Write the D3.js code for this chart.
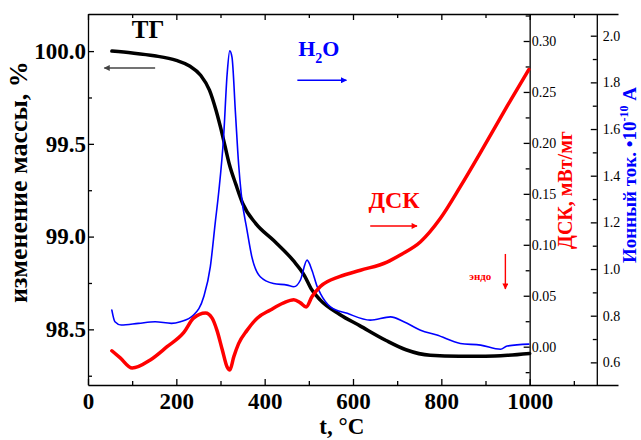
<!DOCTYPE html>
<html>
<head>
<meta charset="utf-8">
<script src="https://cdn.jsdelivr.net/npm/d3@7"></script>
<style>
body { margin: 0; background: #fff; }
svg { font-family: "Liberation Serif", "Times New Roman", serif; }
</style>
</head>
<body>
<svg id="chart" width="641" height="440"></svg>
<script>
// ТГ: изменение массы, %
const tgT = [54, 100, 150, 200, 230, 255, 275, 290, 300, 310, 320, 335, 350, 380, 420, 465, 490, 505, 525, 570, 615, 675, 720, 775, 840, 900, 950, 1000]
const tgV = [100.0, 99.99, 99.975, 99.95, 99.92, 99.87, 99.79, 99.68, 99.59, 99.49, 99.39, 99.28, 99.18, 99.07, 98.98, 98.87, 98.79, 98.72, 98.66, 98.58, 98.52, 98.44, 98.39, 98.36, 98.355, 98.355, 98.36, 98.37]

// ионный ток H2O, 10^-10 A
const ionT = [54, 61, 75, 114, 152, 189, 209, 239, 262, 277, 288, 296, 307, 315, 321, 326, 334, 341, 347, 360, 371, 390, 420, 451, 466, 481, 496, 507, 519, 526, 549, 587, 639, 685, 715, 753, 790, 843, 889, 934, 949, 998]
const ionV = [0.824, 0.774, 0.760, 0.767, 0.774, 0.767, 0.774, 0.803, 0.881, 1.010, 1.197, 1.330, 1.565, 1.835, 1.935, 1.908, 1.664, 1.450, 1.321, 1.167, 1.052, 0.967, 0.938, 0.931, 0.924, 0.953, 1.038, 0.995, 0.924, 0.896, 0.838, 0.810, 0.781, 0.795, 0.774, 0.738, 0.717, 0.681, 0.674, 0.656, 0.670, 0.678]

// ДСК, мВт/мг
const dscT = [54, 73, 100, 141, 179, 217, 239, 266, 281, 292, 304, 315, 321, 330, 341, 360, 383, 413, 443, 466, 481, 494, 507, 526, 571, 617, 677, 707, 753, 798, 843, 896, 949, 998]
const dscV = [-0.004, -0.011, -0.021, -0.013, 0.000, 0.014, 0.028, 0.033, 0.028, 0.016, -0.003, -0.020, -0.023, -0.010, 0.003, 0.016, 0.028, 0.036, 0.043, 0.046, 0.043, 0.039, 0.049, 0.059, 0.069, 0.075, 0.083, 0.090, 0.103, 0.126, 0.157, 0.196, 0.236, 0.272]

// tick values
const xTicks = [0, 200, 400, 600, 800, 1000]
const xMinor = [100, 300, 500, 700, 900, 1100]
const tgTicks = [98.5, 99.0, 99.5, 100.0]
const tgMinor = [98.25, 98.75, 99.25, 99.75]
const dscTicks = [0, 0.05, 0.10, 0.15, 0.20, 0.25, 0.30]
const dscMinor = [-0.025, 0.025, 0.075, 0.125, 0.175, 0.225, 0.275, 0.325]
const ionTicks = [0.6, 0.8, 1.0, 1.2, 1.4, 1.6, 1.8, 2.0]
const ionMinor = [0.7, 0.9, 1.1, 1.3, 1.5, 1.7, 1.9]

const mLeft = 88, mRight = 618, mTop = 14, mBottom = 385
const ionAxisT = 1152
const FONT = '"Liberation Serif", "Times New Roman", serif'

const svg = d3.select('#chart')

const x = d3.scaleLinear().domain([0, 1200]).range([mLeft, mRight])
const yTG = d3.scaleLinear().domain([98.2, 100.2]).range([mBottom, mTop])
const yDSC = d3.scaleLinear().domain([-0.0376, 0.3265]).range([mBottom, mTop])
const yIon = d3.scaleLinear().domain([0.503, 2.093]).range([mBottom, mTop])

function styleAxis(g, size, weight) {
    g.attr('font-family', FONT).attr('font-size', size).attr('font-weight', weight)
    g.selectAll('path, line').attr('stroke', '#000').attr('stroke-width', 1.3)
    g.selectAll('text').attr('fill', '#000')
}

// bottom / top
svg.append('g').attr('transform', `translate(0,${mBottom})`)
    .call(d3.axisBottom(x).tickValues(xTicks).tickFormat(d3.format('d')).tickSize(-6).tickSizeOuter(0).tickPadding(8))
    .call(styleAxis, 23, 'bold')
svg.append('g').attr('transform', `translate(0,${mBottom})`)
    .call(d3.axisBottom(x).tickValues(xMinor).tickFormat('').tickSize(-4).tickSizeOuter(0))
    .call(g => g.select('.domain').remove())
    .call(styleAxis, 10, 'normal')
svg.append('g').attr('transform', `translate(0,${mTop})`)
    .call(d3.axisTop(x).tickValues(xTicks).tickFormat('').tickSize(-6).tickSizeOuter(0))
    .call(styleAxis, 10, 'normal')
svg.append('g').attr('transform', `translate(0,${mTop})`)
    .call(d3.axisTop(x).tickValues(xMinor).tickFormat('').tickSize(-4).tickSizeOuter(0))
    .call(g => g.select('.domain').remove())
    .call(styleAxis, 10, 'normal')

// left (TG)
svg.append('g').attr('transform', `translate(${mLeft},0)`)
    .call(d3.axisLeft(yTG).tickValues(tgTicks).tickFormat(d3.format('.1f')).tickSize(-6).tickSizeOuter(0).tickPadding(2))
    .call(styleAxis, 23, 'bold')
svg.append('g').attr('transform', `translate(${mLeft},0)`)
    .call(d3.axisLeft(yTG).tickValues(tgMinor).tickFormat('').tickSize(-4).tickSizeOuter(0))
    .call(g => g.select('.domain').remove())
    .call(styleAxis, 10, 'normal')

// DSC axis at 1000 °C
svg.append('g').attr('transform', `translate(${x(1000)},0)`)
    .call(d3.axisRight(yDSC).tickValues(dscTicks).tickFormat(d3.format('.2f')).tickSize(-6).tickSizeOuter(0).tickPadding(2))
    .call(styleAxis, 14, 'normal')
svg.append('g').attr('transform', `translate(${x(1000)},0)`)
    .call(d3.axisRight(yDSC).tickValues(dscMinor).tickFormat('').tickSize(-4).tickSizeOuter(0))
    .call(g => g.select('.domain').remove())
    .call(styleAxis, 10, 'normal')

// ion current axis
svg.append('g').attr('transform', `translate(${x(ionAxisT)},0)`)
    .call(d3.axisRight(yIon).tickValues(ionTicks).tickFormat(d3.format('.1f')).tickSize(-6).tickSizeOuter(0).tickPadding(6))
    .call(styleAxis, 14, 'normal')
svg.append('g').attr('transform', `translate(${x(ionAxisT)},0)`)
    .call(d3.axisRight(yIon).tickValues(ionMinor).tickFormat('').tickSize(-4).tickSizeOuter(0))
    .call(g => g.select('.domain').remove())
    .call(styleAxis, 10, 'normal')

// curves
function drawLine(ts, vs, y, color, width) {
    const line = d3.line().x(d => x(d[0])).y(d => y(d[1])).curve(d3.curveMonotoneX)
    svg.append('path').datum(d3.zip(ts, vs))
        .attr('d', line)
        .attr('fill', 'none')
        .attr('stroke', color)
        .attr('stroke-width', width)
        .attr('stroke-linejoin', 'round')
        .attr('stroke-linecap', 'round')
}
drawLine(tgT, tgV, yTG, '#000', 3.5)
drawLine(ionT, ionV, yIon, '#0000ff', 1.6)
drawLine(dscT, dscV, yDSC, '#ff0000', 3.5)

// arrowheads
const defs = svg.append('defs')
function marker(id, color) {
    defs.append('marker').attr('id', id)
        .attr('viewBox', '0 0 10 10').attr('refX', 9).attr('refY', 5)
        .attr('markerUnits', 'userSpaceOnUse')
        .attr('markerWidth', 10).attr('markerHeight', 6)
        .attr('orient', 'auto')
        .append('path').attr('d', 'M0,0L10,5L0,10Z').attr('fill', color)
}
marker('ah-gray', '#444')
marker('ah-blue', '#0000ff')
marker('ah-red', '#ff0000')

function arrow(x1, y1, x2, y2, color, id) {
    svg.append('line')
        .attr('x1', x1).attr('y1', y1).attr('x2', x2).attr('y2', y2)
        .attr('stroke', color).attr('stroke-width', 1.4)
        .attr('marker-end', `url(#${id})`)
}

// annotations (placed in data units)
svg.append('text').attr('x', x(99)).attr('y', yTG(100.07))
    .attr('font-size', 25).attr('font-weight', 'bold').text('ТГ')
arrow(x(152), yTG(99.909), x(37), yTG(99.909), '#444', 'ah-gray')

const h2o = svg.append('text').attr('x', x(476)).attr('y', yIon(1.912))
    .attr('font-size', 22).attr('font-weight', 'bold').attr('fill', '#0000ff')
h2o.append('tspan').text('H')
h2o.append('tspan').attr('font-size', 14).attr('dy', 7).text('2')
h2o.append('tspan').attr('dy', -7).text('O')
arrow(x(474), yIon(1.809), x(585), yIon(1.809), '#0000ff', 'ah-blue')

svg.append('text').attr('x', x(635)).attr('y', yDSC(0.136))
    .attr('font-size', 24).attr('font-weight', 'bold').attr('fill', '#ff0000').text('ДСК')
arrow(x(639), yDSC(0.1185), x(745), yDSC(0.1185), '#ff0000', 'ah-red')

svg.append('text').attr('x', x(863)).attr('y', yDSC(0.0655))
    .attr('font-size', 11).attr('font-weight', 'bold').attr('fill', '#ff0000').text('эндо')
arrow(x(945), yDSC(0.091), x(945), yDSC(0.0566), '#ff0000', 'ah-red')

// axis titles
svg.append('text').attr('transform', 'translate(27,182) rotate(-90)')
    .attr('text-anchor', 'middle').attr('font-size', 26).attr('font-weight', 'bold')
    .text('изменение массы, %')

svg.append('text').attr('x', (mLeft + x(1000)) / 2 + 33).attr('y', 434)
    .attr('text-anchor', 'middle').attr('font-size', 23).attr('font-weight', 'bold')
    .text('t, °C')

svg.append('text').attr('transform', 'translate(572,190) rotate(-90)')
    .attr('text-anchor', 'middle').attr('font-size', 20).attr('font-weight', 'bold').attr('fill', '#ff0000')
    .text('ДСК, мВт/мг')

const ionLabel = svg.append('text').attr('transform', 'translate(636,175) rotate(-90)')
    .attr('text-anchor', 'middle').attr('font-size', 19).attr('font-weight', 'bold').attr('fill', '#0000ff')
ionLabel.append('tspan').text('Ионный ток. •10')
ionLabel.append('tspan').attr('font-size', 12).attr('dy', -8).text('-10')
ionLabel.append('tspan').attr('dy', 8).text(' A')
</script>
</body>
</html>
